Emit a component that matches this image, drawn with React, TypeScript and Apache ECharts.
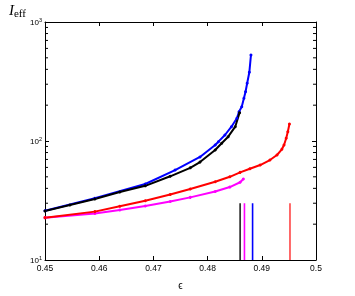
import React, { useEffect, useRef } from "react";
import * as echarts from "echarts";

const epsBlack = [0.45, 0.4546, 0.4592, 0.4638, 0.4685, 0.4731, 0.4768, 0.4786, 0.4814, 0.4826, 0.4838, 0.4851, 0.4859];
const iBlack = [25.8, 29.0, 32.6, 37.3, 42.0, 50.5, 59.5, 66.5, 84.0, 95.7, 108.7, 131.9, 172.9];

const epsBlue = [0.45, 0.4592, 0.4685, 0.474, 0.4786, 0.4814, 0.482, 0.4832, 0.4844, 0.4854, 0.4858, 0.4863, 0.4867, 0.487, 0.4873, 0.4877, 0.488];
const iBlue = [25.9, 33.0, 43.5, 57.0, 73.4, 92.6, 98.7, 112.3, 131.9, 155.2, 176.3, 194.2, 228.4, 259.5, 305.4, 377.8, 528];

const epsRed = [0.45, 0.4592, 0.4638, 0.4685, 0.4731, 0.4768, 0.4814, 0.4841, 0.486, 0.4878, 0.4897, 0.4915, 0.4928, 0.4937, 0.4941, 0.4945, 0.4948, 0.4951];
const iRed = [22.7, 25.5, 28.3, 31.5, 35.5, 39.5, 45.5, 50.0, 54.5, 58.5, 62.8, 69.2, 76.3, 85.2, 92.6, 105.4, 119.7, 139.0];

const epsMagenta = [0.45, 0.4592, 0.4638, 0.4685, 0.4731, 0.4768, 0.4814, 0.4841, 0.486, 0.4866];
const iMagenta = [22.7, 24.6, 26.3, 28.4, 31.0, 33.6, 37.6, 41.0, 45.0, 48.0];

const vlineEps = [0.486, 0.4868, 0.4883, 0.4952];
const vlineColors = ["#222222", "#ff00ff", "#0000ff", "#ff4444"];
const vlineBottom = 10;
const vlineTop = 30;

const xTicks = [0.45, 0.46, 0.47, 0.48, 0.49, 0.5];
const minorTickValues = [20, 30, 40, 50, 60, 70, 80, 90, 200, 300, 400, 500, 600, 700, 800, 900];

const zip = (a: number[], b: number[]) => a.map((v, i) => [v, b[i]]);

export default function App() {
  const ref = useRef<HTMLDivElement>(null);
  useEffect(() => {
    if (!ref.current) return;
    const chart = echarts.init(ref.current, null, { renderer: "svg" });
    const font = "Liberation Sans, Arial, sans-serif";
    const curve = (name: string, color: string, data: number[][]) => ({
      name,
      type: "line",
      data,
      xAxisIndex: 0,
      yAxisIndex: 0,
      symbol: "circle",
      symbolSize: 3,
      showSymbol: true,
      lineStyle: { color, width: 2 },
      itemStyle: { color },
      z: 3,
    });
    const vlines = vlineEps.map((e, i) => ({
      type: "line",
      data: [
        [e, vlineBottom],
        [e, vlineTop],
      ],
      symbol: "none",
      lineStyle: { color: vlineColors[i], width: 1.6 },
      z: 2,
    }));
    const axisCommon = {
      axisLine: { show: true, lineStyle: { color: "#000", width: 1 } },
      axisTick: { show: true, inside: true, length: 4, lineStyle: { color: "#000" } },
      splitLine: { show: false },
    };
    chart.setOption({
      animation: false,
      grid: { left: 45, top: 22, right: 39, bottom: 36 },
      graphic: [
        {
          type: "text",
          left: 9,
          top: 2,
          style: {
            text: "{i|I}{s|eff}",
            rich: {
              i: { fontFamily: "Liberation Serif, serif", fontStyle: "italic", fontSize: 15, fill: "#000" },
              s: { fontFamily: "Liberation Serif, serif", fontSize: 11, fill: "#000", padding: [6, 0, 0, 0] },
            },
          },
        },
      ],
      xAxis: [
        {
          type: "value",
          min: 0.45,
          max: 0.5,
          interval: 0.01,
          position: "bottom",
          name: "ϵ",
          nameLocation: "middle",
          nameGap: 20,
          nameTextStyle: { fontSize: 10, fontFamily: font, color: "#000" },
          axisLabel: {
            fontSize: 8.5,
            fontFamily: font,
            color: "#000",
            margin: 3,
            formatter: (v: number) => {
              const t = xTicks.find((x) => Math.abs(x - v) < 1e-6);
              return t === undefined ? "" : String(t);
            },
          },
          ...axisCommon,
        },
        {
          type: "value",
          min: 0.45,
          max: 0.5,
          interval: 0.01,
          position: "top",
          axisLabel: { show: false },
          ...axisCommon,
        },
      ],
      yAxis: [
        {
          type: "log",
          logBase: 10,
          min: 10,
          max: 1000,
          position: "left",
          axisLabel: {
            margin: 3,
            formatter: (v: number) => `{b|10}{s|${Math.round(Math.log10(v))}}`,
            rich: {
              b: { fontSize: 8, fontFamily: font, color: "#000" },
              s: { fontSize: 5.5, fontFamily: font, color: "#000", padding: [0, 0, 5, 0] },
            },
          },
          ...axisCommon,
        },
        {
          type: "log",
          logBase: 10,
          min: 10,
          max: 1000,
          position: "right",
          axisLabel: { show: false },
          ...axisCommon,
        },
      ],
      series: [
        ...vlines,
        curve("magenta", "#ff00ff", zip(epsMagenta, iMagenta)),
        curve("red", "#ff0000", zip(epsRed, iRed)),
        curve("blue", "#0000ff", zip(epsBlue, iBlue)),
        curve("black", "#000000", zip(epsBlack, iBlack)),
        {
          type: "custom",
          data: minorTickValues.map((v) => [0.45, v]),
          renderItem: (_params: any, api: any) => {
            const v = api.value(1);
            const pl = api.coord([0.45, v]);
            const pr = api.coord([0.5, v]);
            return {
              type: "group",
              children: [
                { type: "line", shape: { x1: pl[0], y1: pl[1], x2: pl[0] + 3, y2: pl[1] }, style: { stroke: "#000", lineWidth: 1 } },
                { type: "line", shape: { x1: pr[0] - 3, y1: pr[1], x2: pr[0], y2: pr[1] }, style: { stroke: "#000", lineWidth: 1 } },
              ],
            };
          },
          z: 1,
        },
      ],
    });
    return () => chart.dispose();
  }, []);
  return <div ref={ref} style={{ position: "fixed", left: 0, top: 0, width: 355, height: 296 }} />;
}
